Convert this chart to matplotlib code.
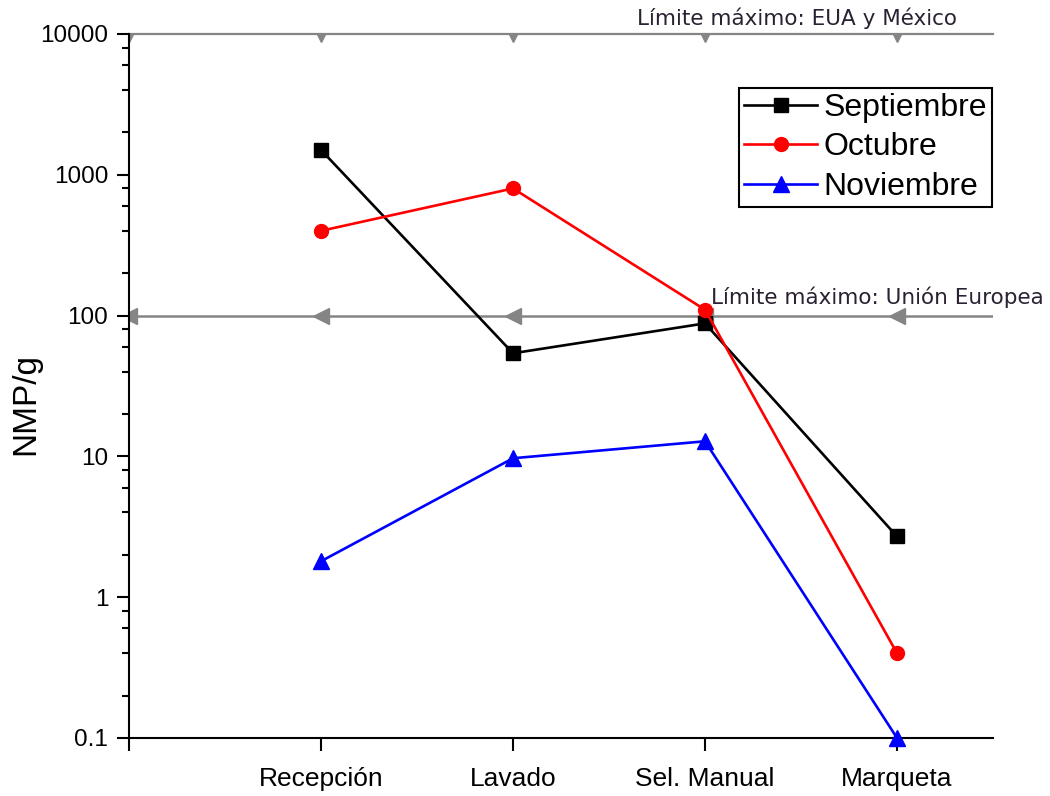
import numpy as np
import matplotlib
matplotlib.use("Agg")
import matplotlib.pyplot as plt
from matplotlib.ticker import LogLocator, NullFormatter

# stages along the process line
etapas = ["Recepción", "Lavado", "Sel. Manual", "Marqueta"]
x_pos = [1, 2, 3, 4]

septiembre = [1500, 54, 88, 2.7]
octubre = [400, 800, 110, 0.4]
noviembre = [1.8, 9.7, 12.8, 0.1]

# limits (NMP/g)
lim_x = [0, 1, 2, 3, 4, 4.5]
lim_eua = [10000] * 6
lim_ue = [100] * 6

plt.rcParams['font.family'] = ['Liberation Sans', 'DejaVu Sans']

fig = plt.figure(figsize=(10.5, 7.96), dpi=100)
ax = fig.add_axes([0.1229, 0.0729, 0.8228, 0.8844])

gray = '#858585'
ax.plot(lim_x, lim_eua, '-', color=gray, lw=1.6, clip_on=False, zorder=2)
ax.plot(lim_x[:5], lim_eua[:5], 'v', color=gray, ms=11, zorder=2)
ax.plot(lim_x, lim_ue, '-', color=gray, lw=1.8, zorder=2,
        marker='<', ms=12, markevery=[0, 1, 2, 3, 4])

ax.plot(x_pos, septiembre, 'k-', marker='s', ms=10, lw=1.9, label='Septiembre', zorder=3)
ax.plot(x_pos, octubre, '-', color='red', marker='o', ms=10, lw=1.9, label='Octubre', zorder=3)
ax.plot(x_pos, noviembre, '-', color='blue', marker='^', ms=11, lw=1.9, label='Noviembre',
        zorder=3, clip_on=False)

ax.set_yscale('log')
ax.set_ylim(0.1, 10000)
ax.set_xlim(0, 4.5)

ax.yaxis.set_minor_locator(LogLocator(base=10, subs=[2, 4, 6, 8], numticks=10))
ax.yaxis.set_minor_formatter(NullFormatter())
ax.set_yticks([0.1, 1, 10, 100, 1000, 10000])
ax.set_yticklabels(['0.1', '1', '10', '100', '1000', '10000'])

ax.set_xticks([0] + x_pos)
ax.set_xticklabels([''] + etapas, fontsize=19)

for s in ['top', 'right']:
    ax.spines[s].set_visible(False)
for s in ['left', 'bottom']:
    ax.spines[s].set_linewidth(1.5)

ax.tick_params(axis='y', which='major', direction='out', length=9, width=1.5, labelsize=17.5, pad=6)
ax.tick_params(axis='y', which='minor', direction='out', length=5, width=1.5)
ax.tick_params(axis='x', which='major', direction='out', length=9, width=1.5, pad=12)

ax.set_ylabel('NMP/g', fontsize=24)
ax.yaxis.set_label_coords(-0.102, 0.474)

ax.text(2.646, 1.0227, 'Límite máximo: EUA y México', transform=ax.get_xaxis_transform(),
        family='DejaVu Sans', fontsize=15.5, color='#2a2233', va='center', ha='left')
ax.text(3.03, 0.626, 'Límite máximo: Unión Europea', transform=ax.get_xaxis_transform(),
        family='DejaVu Sans', fontsize=15.5, color='#2a2233', va='center', ha='left')

leg = ax.legend(loc='upper right', bbox_to_anchor=(0.9448, 0.8894), bbox_transform=fig.transFigure,
                borderaxespad=0, fontsize=23, numpoints=1, handlelength=2.3, handletextpad=0.2,
                labelspacing=0.3, borderpad=0.15, fancybox=False, framealpha=1)
leg.get_frame().set_edgecolor('black')
leg.get_frame().set_linewidth(1.5)

fig.savefig('out.png', dpi=100)
